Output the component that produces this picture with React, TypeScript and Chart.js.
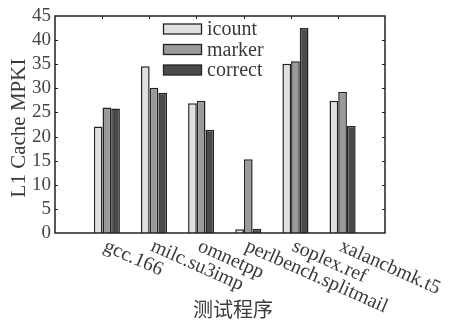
import React, { useEffect, useRef } from "react";
import { Chart, registerables } from "chart.js";

Chart.register(...registerables);

const categories = ["gcc.166", "milc.su3imp", "omnetpp", "perlbench.splitmail", "soplex.ref", "xalancbmk.t5"];
const seriesNames = ["icount", "marker", "correct"];
const icount = [22.1, 34.6, 26.9, 0.8, 35.1, 27.4];
const marker = [26.0, 30.1, 27.4, 15.3, 35.6, 29.3];
const correct = [25.8, 29.1, 21.4, 0.9, 42.5, 22.2];
const seriesColors = ["#e0e0e0", "#9a9a9a", "#4a4a4a"];
const yMin = 0;
const yMax = 45;
const yStep = 5;
const yTitle = "L1 Cache MPKI";
const xTitle = "测试程序";

const SERIF = "'Liberation Serif', 'Times New Roman', serif";
const CJK = "'Noto Sans CJK SC', sans-serif";
const INK = "#222";
const TEXT = "#3a3a3a";

const overlay = {
  id: "overlay",
  afterDraw(chart: any) {
    const { ctx, chartArea: a, scales } = chart;
    const xs = scales.x;
    const ys = scales.y;
    ctx.save();
    // frame
    ctx.strokeStyle = INK;
    ctx.lineWidth = 1.5;
    ctx.strokeRect(a.left, a.top, a.right - a.left, a.bottom - a.top);
    // y inward ticks left and right
    ctx.lineWidth = 1;
    for (let v = yMin + yStep; v < yMax; v += yStep) {
      const py = Math.round(ys.getPixelForValue(v)) + 0.5;
      ctx.beginPath();
      ctx.moveTo(a.left, py);
      ctx.lineTo(a.left + 3, py);
      ctx.moveTo(a.right, py);
      ctx.lineTo(a.right - 3, py);
      ctx.stroke();
    }
    // top ticks + rotated category labels
    categories.forEach((c, i) => {
      const px = xs.getPixelForValue(i + 0.9);
      ctx.beginPath();
      ctx.moveTo(Math.round(px) + 0.5, a.top);
      ctx.lineTo(Math.round(px) + 0.5, a.top + 3);
      ctx.stroke();
      ctx.save();
      ctx.translate(px + 4, a.bottom + 9);
      ctx.rotate((24 * Math.PI) / 180);
      ctx.font = `20px ${SERIF}`;
      ctx.fillStyle = TEXT;
      ctx.textAlign = "left";
      ctx.textBaseline = "alphabetic";
      ctx.fillText(c, 0, 9);
      ctx.restore();
    });
    // x title
    ctx.font = `20px ${CJK}`;
    ctx.fillStyle = TEXT;
    ctx.textAlign = "center";
    ctx.textBaseline = "middle";
    ctx.fillText(xTitle, 233, 309);
    // y title
    ctx.save();
    ctx.translate(19, 128);
    ctx.rotate(-Math.PI / 2);
    ctx.font = `21px ${SERIF}`;
    ctx.textAlign = "center";
    ctx.textBaseline = "middle";
    ctx.fillText(yTitle, 0, 0);
    ctx.restore();
    // legend
    const ds = chart.data.datasets;
    ds.forEach((d: any, i: number) => {
      const cy = 29 + i * 20.5;
      ctx.fillStyle = d.backgroundColor;
      ctx.fillRect(163.5, cy - 5, 38, 10);
      ctx.strokeStyle = INK;
      ctx.lineWidth = 1.3;
      ctx.strokeRect(163.5, cy - 5, 38, 10);
      ctx.fillStyle = TEXT;
      ctx.font = `20px ${SERIF}`;
      ctx.textAlign = "left";
      ctx.textBaseline = "middle";
      ctx.fillText(d.label, 207, cy + 1);
    });
    ctx.restore();
  },
};

export default function App() {
  const ref = useRef<HTMLCanvasElement | null>(null);
  useEffect(() => {
    document.body.style.margin = "0";
    const seriesValues = [icount, marker, correct];
    const chart = new Chart(ref.current as HTMLCanvasElement, {
      type: "bar",
      data: {
        datasets: seriesNames.map((name, s) => ({
          label: name,
          data: seriesValues[s].map((v, i) => ({ x: i + 1, y: v })),
          backgroundColor: seriesColors[s],
          borderColor: INK,
          borderWidth: 1.5,
          categoryPercentage: 0.615,
          barPercentage: 1,
        })),
      },
      options: {
        responsive: false,
        animation: false,
        layout: { padding: { top: 16, right: 64, left: 0, bottom: 0 } },
        plugins: { legend: { display: false }, tooltip: { enabled: false } },
        scales: {
          x: {
            type: "linear",
            offset: false,
            min: -0.1,
            max: 6.9,
            grid: { display: false, offset: false },
            border: { display: false },
            ticks: { display: false },
            afterFit: (s: any) => {
              s.height = 90;
            },
          },
          y: {
            min: yMin,
            max: yMax,
            grid: { display: false, drawTicks: false },
            border: { display: false },
            ticks: {
              stepSize: yStep,
              autoSkip: false,
              padding: 4,
              color: "#444",
              font: { family: SERIF, size: 19 },
            },
            afterFit: (s: any) => {
              s.width = 55;
            },
          },
        },
      },
      plugins: [overlay],
    });
    return () => chart.destroy();
  }, []);
  return (
    <div style={{ width: 449, height: 323, background: "#fff" }}>
      <canvas ref={ref} width={449} height={323} />
    </div>
  );
}
